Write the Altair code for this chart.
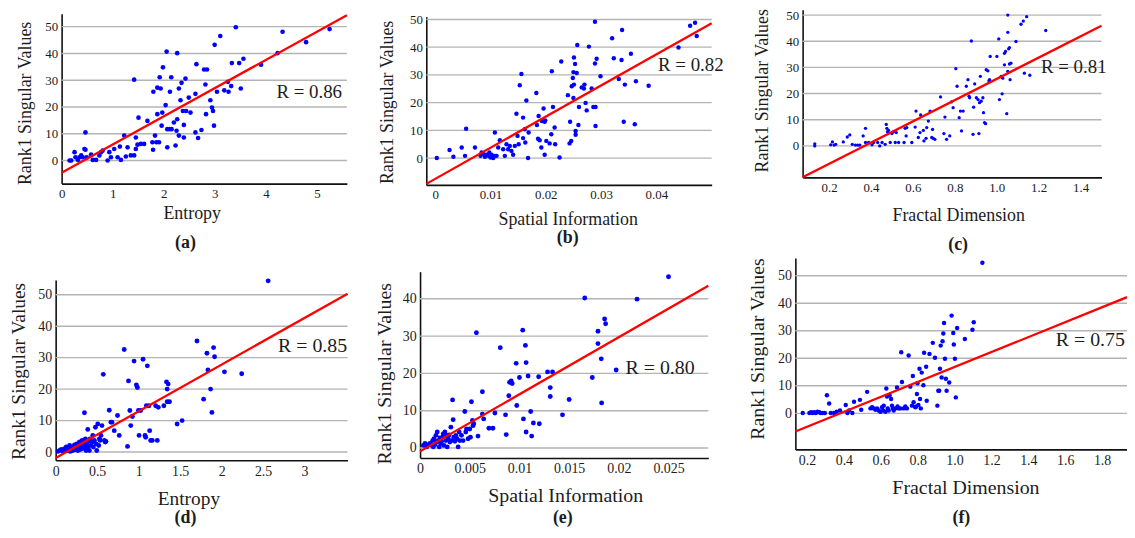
import altair as alt
import pandas as pd

# ---------------- (a) Entropy ----------------
a_x = [0.156, 0.188, 0.253, 0.272, 0.318, 0.350, 0.383, 0.415, 0.447, 0.467,
       0.467, 0.493, 0.577, 0.610, 0.674, 0.739, 0.772, 0.804, 0.901, 0.934,
       0.966, 1.031, 1.096, 1.141, 1.161, 1.226, 1.258, 1.291, 1.355, 1.420,
       1.420, 1.453, 1.453, 1.485, 1.505, 1.550, 1.615, 1.680, 1.777, 1.790,
       1.796, 1.829, 1.855, 1.874, 1.874, 1.907, 1.920, 1.939, 1.958, 1.971,
       1.984, 2.036, 2.056, 2.069, 2.069, 2.114, 2.121, 2.147, 2.153, 2.198,
       2.231, 2.250, 2.263, 2.263, 2.296, 2.296, 2.328, 2.348, 2.374, 2.393,
       2.393, 2.425, 2.438, 2.490, 2.523, 2.620, 2.620, 2.639, 2.672, 2.737,
       2.789, 2.815, 2.827, 2.847, 2.912, 2.944, 2.964, 2.983, 2.996, 3.042,
       3.106, 3.184, 3.256, 3.268, 3.320, 3.333, 3.411, 3.476, 3.508, 3.560,
       3.904, 4.228, 4.326, 4.786, 5.246]
a_y = [0, 0, 3.1, 1.2, 0.2, 1.2, 1.9, 1.2, 4.3, 4.0,
       10.5, 1.2, 2.2, 0.2, 0.2, 1.9, 3.1, 3.7, 0, 3.1,
       1.2, 4.3, 1.2, 5.2, 0.2, 9.3, 1.5, 4.9, 1.9, 1.9,
       30.2, 8.6, 4.3, 5.9, 16.0, 6.2, 6.2, 14.8, 6.8, 4.0,
       25.7, 9.3, 6.8, 27.2, 17.3, 6.8, 31.1, 26.9, 13.0, 17.9,
       34.8, 20.7, 40.7, 4.9, 11.7, 11.7, 25.7, 31.1, 11.7, 14.2,
       5.6, 11.1, 40.1, 15.4, 26.9, 9.3, 22.5, 29.0, 18.5, 13.3,
       8.6, 30.6, 18.5, 23.5, 17.9, 10.5, 24.9, 36.0, 8.4, 11.4,
       34.0, 28.4, 17.3, 34.0, 22.5, 19.8, 18.5, 13.0, 43.2, 25.7,
       46.5, 26.2, 29.4, 25.7, 27.8, 36.4, 49.8, 36.4, 26.9, 38.0,
       35.8, 40.1, 48.1, 44.2, 49.1]
a_fit_x = [0, 5.585]
a_fit_y = [-4.6, 54.3]
a_r = "R = 0.86"

# ---------------- (b) Spatial Information ----------------
b_x = [0.0003, 0.0026, 0.0033, 0.0048, 0.0054, 0.0056, 0.0072, 0.0082, 0.0084, 0.0088,
       0.0090, 0.0093, 0.0096, 0.0098, 0.0100, 0.0102, 0.0105, 0.0108, 0.0108, 0.0111,
       0.0114, 0.0117, 0.0123, 0.0126, 0.0129, 0.0132, 0.0135, 0.0138, 0.0141, 0.0144,
       0.0147, 0.0149, 0.0151, 0.0153, 0.0156, 0.0159, 0.0159, 0.0162, 0.0163, 0.0165,
       0.0168, 0.0169, 0.0183, 0.0184, 0.0186, 0.0187, 0.0189, 0.0192, 0.0193, 0.0196,
       0.0198, 0.0198, 0.0199, 0.0201, 0.0207, 0.0210, 0.0211, 0.0213, 0.0216, 0.0217,
       0.0225, 0.0228, 0.0240, 0.0243, 0.0244, 0.0246, 0.0247, 0.0249, 0.0250, 0.0250,
       0.0251, 0.0251, 0.0253, 0.0254, 0.0254, 0.0256, 0.0257, 0.0259, 0.0260, 0.0265,
       0.0270, 0.0269, 0.0272, 0.0274, 0.0278, 0.0283, 0.0286, 0.0289, 0.0289, 0.0290,
       0.0290, 0.0292, 0.0299, 0.0320, 0.0323, 0.0332, 0.0337, 0.0338, 0.0341, 0.0343,
       0.0354, 0.0361, 0.0363, 0.0386, 0.0440, 0.0461, 0.0470, 0.0473]
b_y = [0, 2.9, 0.5, 3.8, 0.8, 10.6, 3.8, 0.8, 2.0, 1.4,
       0.5, 1.2, 0.8, 2.0, 0.2, 1.2, 0, 9.2, 0.8, 0.8,
       3.8, 6.4, 3.2, 0.8, 5.0, 3.2, 4.4, 2.6, 1.2, 4.4,
       16.0, 8.0, 5.0, 26.3, 30.3, 14.6, 7.2, 10.4, 5.6, 20.8,
       0, 9.2, 23.5, 11.9, 7.0, 15.2, 6.4, 3.8, 13.4, 17.9,
       13.1, 1.2, 13.6, 6.2, 5.3, 8.6, 31.3, 18.4, 11.0, 5.0,
       0.2, 34.8, 22.7, 5.3, 13.1, 6.2, 25.9, 28.9, 21.7, 31.0,
       36.3, 26.5, 33.9, 9.8, 8.4, 30.7, 40.8, 11.9, 18.4, 25.5,
       26.5, 25.1, 19.9, 17.2, 40.2, 25.1, 18.4, 49.2, 34.1, 11.6,
       18.4, 35.8, 29.5, 43.2, 36.0, 28.5, 35.4, 46.2, 13.1, 26.5,
       37.6, 12.2, 27.7, 26.1, 39.9, 47.7, 48.8, 44.0]
b_fit_x = [-0.0016, 0.050]
b_fit_y = [-9.3, 48.6]
b_r = "R = 0.82"

# ---------------- (c) Fractal Dimension ----------------
c_x = [0.132, 0.132, 0.208, 0.216, 0.224, 0.232, 0.268, 0.287, 0.299, 0.311,
       0.326, 0.337, 0.347, 0.363, 0.374, 0.374, 0.389, 0.405, 0.413, 0.432,
       0.442, 0.453, 0.468, 0.473, 0.476, 0.479, 0.484, 0.492, 0.500, 0.508,
       0.516, 0.521, 0.532, 0.558, 0.563, 0.568, 0.571, 0.595, 0.611, 0.615,
       0.626, 0.634, 0.637, 0.650, 0.653, 0.663, 0.666, 0.674, 0.682, 0.690,
       0.694, 0.697, 0.705, 0.732, 0.748, 0.753, 0.761, 0.776, 0.784, 0.792,
       0.805, 0.811, 0.821, 0.827, 0.832, 0.840, 0.855, 0.863, 0.868, 0.871,
       0.879, 0.887, 0.890, 0.895, 0.903, 0.911, 0.915, 0.918, 0.922, 0.926,
       0.934, 0.937, 0.942, 0.947, 0.950, 0.958, 0.963, 0.966, 0.969, 1.001,
       1.010, 1.013, 1.021, 1.026, 1.029, 1.037, 1.037, 1.042, 1.048, 1.053,
       1.053, 1.053, 1.057, 1.061, 1.061, 1.064, 1.068, 1.092, 1.116, 1.127,
       1.132, 1.143, 1.158, 1.234]
c_y = [0.8, 0.0, 0.4, 1.5, 0.3, 0.6, 1.5, 3.4, 4.2, 0.6,
       0.3, 0.3, 0.3, 3.8, 6.7, 1.3, 1.3, 0.4, 1.3, 1.3,
       0.0, 1.3, 0.6, 8.2, 6.7, 5.4, 5.9, 1.3, 4.7, 5.4,
       1.3, 5.1, 1.3, 1.3, 6.7, 3.8, 7.0, 1.3, 7.2, 13.3,
       3.2, 5.1, 11.8, 5.9, 1.9, 2.9, 7.0, 9.5, 13.3, 3.2,
       6.3, 2.9, 2.5, 18.7, 4.7, 11.0, 2.5, 3.8, 16.8, 14.6,
       29.5, 22.8, 10.8, 13.3, 5.7, 13.3, 22.8, 25.3, 19.0, 18.4,
       40.1, 4.4, 14.8, 23.7, 18.4, 17.7, 4.7, 16.5, 26.6, 17.1,
       18.4, 12.7, 8.9, 8.5, 29.1, 28.7, 24.9, 25.3, 34.2, 34.2,
       40.9, 17.7, 26.6, 19.9, 25.9, 31.0, 35.4, 36.1, 12.3, 43.4,
       50.0, 28.5, 37.1, 37.6, 31.3, 25.3, 31.6, 39.9, 46.5, 47.7,
       27.8, 49.4, 27.0, 44.1]
c_fit_x = [0.074, 1.5]
c_fit_y = [-12.0, 45.9]
c_r = "R = 0.81"

# ---------------- (d) Entropy ----------------
d_x = [0.028, 0.048, 0.068, 0.088, 0.108, 0.120, 0.128, 0.148, 0.160, 0.168,
       0.176, 0.187, 0.199, 0.207, 0.215, 0.227, 0.239, 0.247, 0.255, 0.267,
       0.279, 0.287, 0.295, 0.307, 0.319, 0.327, 0.335, 0.347, 0.347, 0.359,
       0.367, 0.375, 0.387, 0.387, 0.399, 0.407, 0.415, 0.427, 0.439, 0.447,
       0.455, 0.467, 0.479, 0.487, 0.495, 0.507, 0.519, 0.527, 0.535, 0.546,
       0.558, 0.574, 0.586, 0.598, 0.606, 0.646, 0.666, 0.678, 0.706, 0.746,
       0.766, 0.826, 0.866, 0.878, 0.894, 0.905, 0.925, 0.945, 0.973, 0.985,
       0.997, 1.005, 1.025, 1.053, 1.077, 1.085, 1.093, 1.105, 1.125, 1.133,
       1.145, 1.165, 1.205, 1.225, 1.237, 1.304, 1.336, 1.344, 1.344, 1.356,
       1.372, 1.464, 1.524, 1.703, 1.783, 1.823, 1.835, 1.867, 1.883, 1.903,
       1.915, 2.034, 2.242, 2.561]
d_y = [0.2, 0.5, 0.8, 0.2, 1.1, 0.5, 1.6, 0.5, 1.1, 2.1,
       0.2, 0.8, 1.6, 0.5, 1.3, 2.3, 0.8, 1.6, 2.6, 0.5,
       1.9, 3.2, 0.8, 2.1, 3.7, 1.1, 2.6, 12.5, 1.6, 4.2,
       0.5, 2.6, 7.2, 1.6, 3.4, 0.5, 4.2, 2.1, 3.2, 5.3,
       1.6, 3.7, 7.9, 2.6, 0.5, 8.9, 2.1, 4.2, 3.7, 5.3,
       8.4, 24.7, 3.7, 3.2, 3.4, 13.3, 9.5, 9.5, 6.8, 11.6,
       5.3, 32.6, 1.8, 22.6, 13.2, 8.4, 11.3, 28.9, 21.3, 20.5,
       13.2, 5.3, 13.2, 29.5, 5.3, 4.7, 14.7, 27.4, 14.7, 6.8,
       3.7, 3.7, 14.7, 3.7, 14.2, 14.7, 22.3, 20.0, 16.0, 21.6,
       16.0, 8.9, 10.0, 35.3, 16.8, 31.4, 26.1, 20.0, 12.6, 33.2,
       30.3, 25.5, 24.9, 54.4]
d_fit_x = [0, 3.518]
d_fit_y = [-1.9, 50.3]
d_r = "R = 0.85"

# ---------------- (e) Spatial Information ----------------
e_x = [0.00033, 0.0005, 0.00067, 0.00083, 0.0010, 0.00117, 0.00127, 0.00133, 0.0014, 0.0015,
       0.0016, 0.00167, 0.00173, 0.00183, 0.00193, 0.0020, 0.00207, 0.00217, 0.00227, 0.00233,
       0.0024, 0.0025, 0.0026, 0.00267, 0.00273, 0.00283, 0.00293, 0.0030, 0.0031, 0.00317,
       0.00327, 0.00333, 0.0034, 0.0035, 0.0036, 0.00373, 0.00383, 0.00393, 0.0040, 0.00417,
       0.00433, 0.0045, 0.0046, 0.00467, 0.00483, 0.0050, 0.00507, 0.00517, 0.00527, 0.00533,
       0.0054, 0.00567, 0.00583, 0.00627, 0.00627, 0.0064, 0.00693, 0.00733, 0.00753, 0.00807,
       0.0086, 0.00867, 0.00893, 0.0090, 0.00917, 0.00927, 0.00967, 0.00973, 0.0100, 0.01033,
       0.0104, 0.0106, 0.01067, 0.01067, 0.01087, 0.01113, 0.01123, 0.0114, 0.01193, 0.0120,
       0.01283, 0.0131, 0.0131, 0.01333, 0.01433, 0.0150, 0.01657, 0.01733, 0.0179, 0.0179,
       0.01823, 0.01827, 0.01857, 0.01867, 0.01973, 0.02183, 0.0250]
e_y = [0.7, 1.2, 0.3, 0.9, 1.2, 0.7, 2.0, 0.3, 2.5, 0.9,
       3.4, 1.6, 4.3, 2.0, 0.3, 2.7, 1.2, 1.8, 2.9, 3.8,
       0.7, 4.3, 2.0, 3.4, 0.3, 2.5, 3.5, 1.6, 5.6, 2.0,
       12.9, 7.6, 2.9, 1.8, 3.4, 2.5, 0.3, 4.3, 2.0, 3.4,
       2.0, 9.8, 4.3, 5.1, 2.5, 5.1, 2.9, 12.4, 7.4, 6.0,
       6.5, 30.9, 3.2, 15.1, 9.1, 7.8, 5.3, 5.3, 9.4, 26.9,
       8.9, 3.6, 14.0, 17.6, 18.0, 17.3, 22.7, 11.4, 18.9, 31.6,
       7.8, 27.5, 22.9, 4.3, 19.3, 9.8, 3.2, 6.7, 19.1, 6.5,
       20.4, 16.2, 13.8, 20.4, 8.9, 13.0, 40.2, 18.9, 31.3, 28.0,
       23.9, 12.1, 34.6, 33.3, 20.9, 39.9, 45.9]
e_fit_x = [0, 0.029]
e_fit_y = [-0.9, 43.5]
e_r = "R = 0.80"

# ---------------- (f) Fractal Dimension ----------------
f_x = [0.177, 0.213, 0.222, 0.230, 0.239, 0.248, 0.257, 0.266, 0.275, 0.284,
       0.297, 0.308, 0.320, 0.329, 0.347, 0.361, 0.379, 0.410, 0.419, 0.428,
       0.446, 0.455, 0.487, 0.494, 0.526, 0.544, 0.553, 0.562, 0.571, 0.580,
       0.589, 0.598, 0.607, 0.613, 0.616, 0.625, 0.630, 0.634, 0.638, 0.643,
       0.648, 0.656, 0.661, 0.666, 0.670, 0.679, 0.688, 0.691, 0.697, 0.706,
       0.711, 0.715, 0.724, 0.733, 0.742, 0.751, 0.760, 0.769, 0.774, 0.778,
       0.787, 0.792, 0.796, 0.799, 0.804, 0.810, 0.813, 0.817, 0.822, 0.831,
       0.835, 0.846, 0.849, 0.864, 0.882, 0.894, 0.907, 0.912, 0.917, 0.921,
       0.925, 0.930, 0.935, 0.939, 0.943, 0.948, 0.953, 0.957, 0.971, 0.984,
       0.993, 0.996, 1.002, 1.007, 1.014, 1.056, 1.097, 1.104, 1.151]
f_y = [0.1, 0.1, 0.4, 0.1, 0.4, 0.1, 0.6, 0.4, 0.1, 0.1,
       0.1, 6.6, 3.6, 0.1, 0.1, 0.6, 1.0, 3.0, 0.1, 1.0,
       0.1, 4.2, 4.9, 1.3, 7.8, 1.8, 2.2, 1.8, 1.3, 1.8,
       1.0, 0.6, 2.2, 1.0, 2.8, 0.6, 9.0, 6.1, 1.8, 1.0,
       6.6, 5.2, 2.8, 1.8, 1.0, 1.8, 9.4, 2.5, 1.8, 1.8,
       22.2, 11.4, 1.8, 2.5, 1.8, 21.0, 9.7, 2.8, 13.6, 4.0,
       2.2, 2.5, 7.0, 10.9, 3.0, 16.2, 5.2, 1.8, 14.8, 10.2,
       22.0, 16.9, 4.6, 21.6, 25.6, 20.2, 2.8, 8.2, 8.2, 16.2,
       24.6, 13.0, 26.2, 29.0, 32.8, 19.8, 12.6, 8.2, 11.2, 35.5,
       29.2, 25.0, 19.8, 5.8, 31.0, 27.0, 30.4, 33.1, 54.7]
f_fit_x = [0.137, 1.935]
f_fit_y = [-6.6, 42.2]
f_r = "R = 0.75"

y_title = "Rank1 Singular Values"
y_ticks_50 = [0, 10, 20, 30, 40, 50]
y_ticks_40 = [0, 10, 20, 30, 40]

FONT = "Liberation Serif"
W, H = 1127, 522
BLUE = "#0000ff"
RED = "#ff0000"
INK = "#1c1c1c"
GRID = "#b4b4b4"


def panel(px, py, fit_x, fit_y, r_lab, r_pos, tag, tag_pos, xdom, ydom, xpix, ypix,
          xticks, yticks, xfmt, xtitle, xt_pos, yt_pos, tick_fs, title_fs, r_fs, dot):
    xsc = alt.Scale(domain=xdom, range=xpix, nice=False, zero=False)
    ysc = alt.Scale(domain=ydom, range=ypix, nice=False, zero=False)
    x_axis = alt.Axis(orient="bottom", offset=ypix[0] - H, values=xticks, format=xfmt,
                      grid=False, ticks=False, domainColor="#111111", domainWidth=1.6,
                      labelFont=FONT, labelFontSize=tick_fs, labelColor=INK, labelPadding=4,
                      labelFlush=False, labelOverlap=False,
                      title=xtitle, titleFont=FONT, titleFontSize=title_fs,
                      titleFontWeight="normal", titleColor=INK,
                      titleX=xt_pos[0], titleY=xt_pos[1], titleAlign="center",
                      titleBaseline="middle")
    y_axis = alt.Axis(orient="left", offset=-xpix[0], values=yticks, format="d",
                      grid=False, ticks=False,
                      domainColor="#111111", domainWidth=1.6,
                      labelFont=FONT, labelFontSize=tick_fs, labelColor=INK, labelPadding=4,
                      labelFlush=False, labelOverlap=False,
                      title=y_title, titleFont=FONT, titleFontSize=title_fs,
                      titleFontWeight="normal", titleColor=INK, titleAngle=270,
                      titleX=yt_pos[0], titleY=yt_pos[1], titleAlign="center",
                      titleBaseline="middle")
    X = alt.X("x:Q", scale=xsc, axis=x_axis)
    Y = alt.Y("y:Q", scale=ysc, axis=y_axis)
    n = len(yticks)
    grid = alt.Chart(pd.DataFrame({"y": yticks, "x": [xdom[0]] * n, "x2": [xdom[1]] * n})
                     ).mark_rule(color=GRID, strokeWidth=1.4, opacity=1).encode(
        x=X, x2=alt.X2("x2"), y=Y)
    pts = alt.Chart(pd.DataFrame({"x": px, "y": py})).mark_circle(
        size=dot, color=BLUE, opacity=1).encode(x=X, y=Y)
    fit = alt.Chart(pd.DataFrame({"x": fit_x, "y": fit_y})).mark_line(
        color=RED, strokeWidth=2.3).encode(x=X, y=Y)
    rt = alt.Chart(pd.DataFrame({"x": [r_pos[0]], "y": [r_pos[1]], "t": [r_lab]})).mark_text(
        align="left", baseline="middle", font=FONT, fontSize=r_fs, color=INK).encode(
        x=X, y=Y, text="t:N")
    tg = alt.Chart(pd.DataFrame({"x": [tag_pos[0]], "y": [tag_pos[1]], "t": [tag]})).mark_text(
        align="center", baseline="middle", font=FONT, fontSize=18, fontWeight="bold",
        color=INK).encode(x=X, y=Y, text="t:N")
    return alt.layer(grid, pts, fit, rt, tg)


pa = panel(a_x, a_y, a_fit_x, a_fit_y, a_r, (4.205, 25.6), "(a)", (2.424, -31.0),
           [0, 5.585], [-8.64, 54.8], [54, 341.3], [175, 4],
           [0, 1, 2, 3, 4, 5], y_ticks_50, "d", "Entropy", (185, 30), (-36.5, 93.7),
           13, 18, 19, 22)
pb = panel(b_x, b_y, b_fit_x, b_fit_y, b_r, (0.0403, 33.65), "(b)", (0.02397, -29.0),
           [-0.0016, 0.05], [-9.67, 50.95], [421.3, 708.7], [176.3, 7],
           [0, 0.01, 0.02, 0.03, 0.04], y_ticks_50, "~g", "Spatial Information",
           (563.7, 35), (-39.3, 92.7), 13, 18, 19, 20)
pc = panel(c_x, c_y, c_fit_x, c_fit_y, c_r, (1.211, 30.1), "(c)", (0.816, -37.95),
           [0.074, 1.5], [-12.03, 52.0], [800.3, 1101.3], [168.7, 0],
           [0.2, 0.4, 0.6, 0.8, 1.0, 1.2, 1.4], y_ticks_50, ".1f", "Fractal  Dimension",
           (957, 38.3), (-40.6, 81), 13, 18, 19, 11)
pd_ = panel(d_x, d_y, d_fit_x, d_fit_y, d_r, (2.68, 33.66), "(d)", (1.564, -21.0),
            [0, 3.518], [-2.63, 54.7], [48, 342], [453.7, 272],
            [0, 0.5, 1, 1.5, 2, 2.5, 3], y_ticks_50, "~g", "Entropy",
            (181.7, 38.3), (-37.5, 363.7), 14, 19.5, 20, 24)
pe = panel(e_x, e_y, e_fit_x, e_fit_y, e_r, (0.02068, 21.56), "(e)", (0.01436, -18.8),
           [0, 0.029], [-2.66, 47.27], [415, 705.3], [451.3, 263.7],
           [0, 0.005, 0.01, 0.015, 0.02, 0.025], y_ticks_40, "~g", "Spatial Information",
           (561.2, 38), (-36, 366), 14, 20, 20, 24)
pf = panel(f_x, f_y, f_fit_x, f_fit_y, f_r, (1.549, 26.57), "(f)", (1.037, -38.1),
           [0.137, 1.935], [-13.1, 56.4], [793, 1127], [442.7, 250],
           [0.2, 0.4, 0.6, 0.8, 1.0, 1.2, 1.4, 1.6, 1.8], y_ticks_50, ".1f",
           "Fractal  Dimension", (964.3, 38), (-37.7, 341), 14, 20, 20, 20)

chart = alt.layer(pa, pb, pc, pd_, pe, pf).resolve_scale(
    x="independent", y="independent"
).properties(
    width=W, height=H, padding=0, background="white",
    autosize=alt.AutoSizeParams(type="none")
).configure_view(stroke="transparent")

chart.save("out.html", embed_options={"renderer": "svg", "actions": False})
